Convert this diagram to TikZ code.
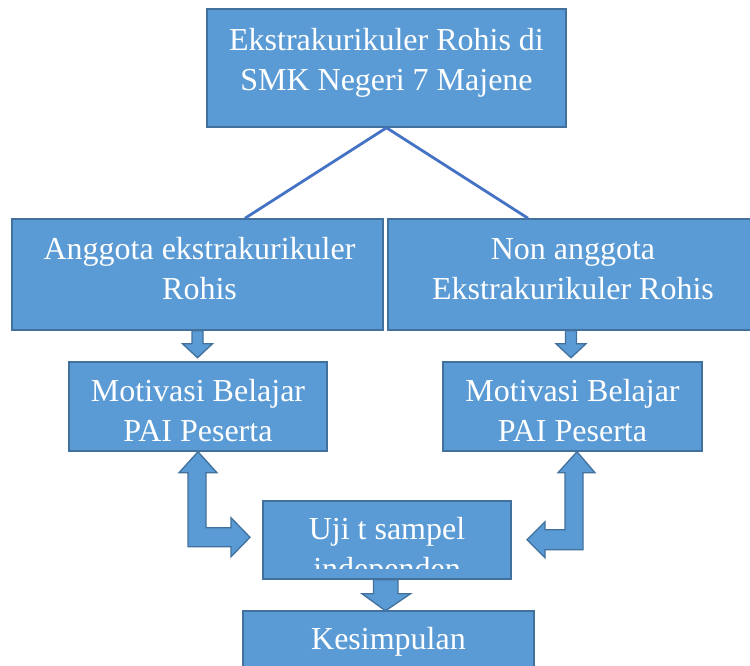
\documentclass[tikz,border=0pt]{standalone}
\usepackage{fontspec}
\setmainfont{Liberation Serif}
\usetikzlibrary{calc}
\definecolor{boxfill}{HTML}{5B9BD5}
\definecolor{boxline}{HTML}{41719C}
\definecolor{linkblue}{HTML}{4472C4}
\begin{document}
\begin{tikzpicture}[x=1pt,y=-1pt]
\tikzstyle{every node}+=[inner sep=0pt]
\tikzstyle{box}=[draw=boxline, line width=1.5pt, fill=boxfill, rectangle]
\tikzstyle{txt}=[anchor=north, align=center, text=white, font=\fontsize{32}{40}\selectfont]
\tikzstyle{link}=[draw=linkblue, line width=2.8pt]
\tikzstyle{blockarrow}=[draw=boxline, line width=1.3pt, fill=boxfill, line join=miter]
\useasboundingbox (0,0) rectangle (750,666);
\clip (0,0) rectangle (750,666);
\fill[white] (0,0) rectangle (750,666);
% boxes
\node[box, minimum width=359, minimum height=118] (top) at (386.5,68) {};
\node[box, minimum width=371, minimum height=111] (left) at (197.5,274.5) {};
\node[box, minimum width=366, minimum height=111] (right) at (571,274.5) {};
\node[box, minimum width=258, minimum height=89] (motL) at (198,406.5) {};
\node[box, minimum width=259, minimum height=89] (motR) at (572.5,406.5) {};
\node[box, minimum width=248, minimum height=78] (uji) at (387,540) {};
\node[box, minimum width=291, minimum height=70] (kes) at (388.5,646) {};
% texts
\node[txt] (toptxt) at ($(top.north)+(0,14)$) {\strut Ekstrakurikuler Rohis di\\SMK Negeri 7 Majene};
\node[txt] (lefttxt) at ($(left.north)+(2,13)$) {\strut Anggota ekstrakurikuler\\Rohis};
\node[txt] (righttxt) at ($(right.north)+(2,13)$) {\strut Non anggota\\Ekstrakurikuler Rohis};
\node[txt] (motLtxt) at ($(motL.north)+(0,12)$) {\strut Motivasi Belajar\\PAI Peserta};
\node[txt] (motRtxt) at ($(motR.north)+(0,12)$) {\strut Motivasi Belajar\\PAI Peserta};
\begin{scope}
\clip (263,501) rectangle (511,568);
\node[txt] (ujitxt) at ($(uji.north)+(0,11)$) {\strut Uji t sampel\\independen};
\end{scope}
\node[txt] (kestxt) at ($(kes.north)+(0,11)$) {\strut Kesimpulan};
% lines from the top box
\draw[link] (top.south) -- ($(left.north)+(47.5,0)$);
\draw[link] (top.south) -- ($(right.north)+(-43,0)$);
% straight block arrows
\draw[blockarrow] ($(left.south)+(-5.5,0)$) -- ++(0,13) -- ++(-9.5,0) -- ($(left.south)+(0,27)$)
  -- ($(left.south)+(15,13)$) -- ++(-9.5,0) -- ($(left.south)+(5.5,0)$) -- cycle;
\draw[blockarrow] ($(right.south)+(-5.5,0)$) -- ++(0,13) -- ++(-9.5,0) -- ($(right.south)+(0,27)$)
  -- ($(right.south)+(15,13)$) -- ++(-9.5,0) -- ($(right.south)+(5.5,0)$) -- cycle;
\draw[blockarrow] ($(uji.south)+(-13.5,0)$) -- ++(0,14) -- ++(-11.5,0) -- ($(uji.south)+(-1.5,31)$)
  -- ($(uji.south)+(23.5,14)$) -- ++(-12.5,0) -- ($(uji.south)+(11,0)$) -- cycle;
% bent double block arrows
\draw[blockarrow] (motL.south) -- ++(19,21) -- ++(-11,0) -- ++(0,55) -- ++(25,0) -- ++(0,-10)
  -- ++(19,19.5) -- ++(-19,19.5) -- ++(0,-10) -- ++(-43,0) -- ++(0,-74) -- ++(-9,0) -- cycle;
\draw[blockarrow] ($(motR.south)+(4.5,0)$) -- ++(18,21) -- ++(-12,0) -- ++(0,77) -- ++(-38,0) -- ++(0,8)
  -- ++(-18,-18) -- ++(18,-18) -- ++(0,8) -- ++(20,0) -- ++(0,-57) -- ++(-7,0) -- cycle;
\end{tikzpicture}
\end{document}
